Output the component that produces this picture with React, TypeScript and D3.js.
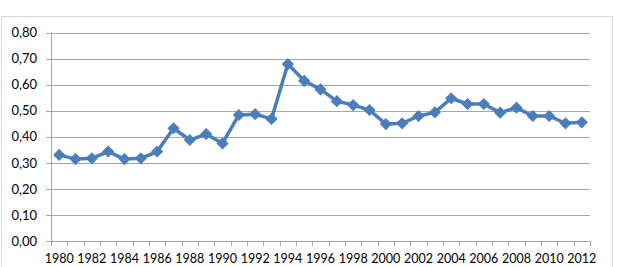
import React, { useEffect, useRef } from 'react';
import * as d3 from 'd3';

const years = d3.range(1980, 2013).map(String);
const values = [
  0.331, 0.315, 0.318, 0.344, 0.315, 0.318, 0.344, 0.433, 0.388, 0.411, 0.375,
  0.484, 0.487, 0.469, 0.679, 0.615, 0.582, 0.537, 0.522, 0.503, 0.449, 0.452,
  0.480, 0.494, 0.548, 0.526, 0.526, 0.493, 0.512, 0.480, 0.480, 0.452, 0.456,
];
const yTicks = [0, 0.1, 0.2, 0.3, 0.4, 0.5, 0.6, 0.7, 0.8];

const W = 618;
const H = 267;

const App: React.FC = () => {
  const svgRef = useRef<SVGSVGElement>(null);

  useEffect(() => {
    if (!svgRef.current) return;
    const svg = d3.select(svgRef.current);
    svg.selectAll('*').remove();

    const left = 51;
    const right = 590;
    const top = 32.5;
    const bottom = 241.3;
    const font = 'Lato, "Liberation Sans", sans-serif';

    // chart frame
    svg.append('rect')
      .attr('x', 1.5).attr('y', 16.5)
      .attr('width', 611).attr('height', 260)
      .attr('fill', '#fff')
      .attr('stroke', '#d9d9d9');

    const x = d3.scaleBand<string>().domain(years).range([left, right]);
    const y = d3.scaleLinear().domain([0, 0.8]).range([bottom, top]);

    // gridlines
    svg.append('g')
      .selectAll('line')
      .data(yTicks)
      .enter()
      .append('line')
      .attr('x1', left - 5)
      .attr('x2', right)
      .attr('y1', d => Math.round(y(d)) + 0.5)
      .attr('y2', d => Math.round(y(d)) + 0.5)
      .attr('stroke', '#a6a6a6')
      .attr('stroke-width', 1);

    // y labels
    svg.append('g')
      .selectAll('text')
      .data(yTicks)
      .enter()
      .append('text')
      .attr('x', 37)
      .attr('y', d => y(d))
      .attr('dy', '0.35em')
      .attr('text-anchor', 'end')
      .attr('font-family', font)
      .attr('font-size', 13)
      .attr('fill', '#000')
      .text(d => d.toFixed(2).replace('.', ','));

    // y axis line
    svg.append('line')
      .attr('x1', left + 0.5).attr('x2', left + 0.5)
      .attr('y1', top).attr('y2', bottom + 0.5)
      .attr('stroke', '#a6a6a6');

    // x ticks at category boundaries
    const bounds = years.map(d => x(d) as number).concat([right]);
    svg.append('g')
      .selectAll('line')
      .data(bounds)
      .enter()
      .append('line')
      .attr('x1', d => Math.round(d) + 0.5)
      .attr('x2', d => Math.round(d) + 0.5)
      .attr('y1', Math.round(bottom))
      .attr('y2', Math.round(bottom) + 5)
      .attr('stroke', '#a6a6a6');

    // x labels every other year
    svg.append('g')
      .selectAll('text')
      .data(years.filter((_, i) => i % 2 === 0))
      .enter()
      .append('text')
      .attr('x', d => (x(d) as number) + x.bandwidth() / 2)
      .attr('y', 263)
      .attr('text-anchor', 'middle')
      .attr('font-family', font)
      .attr('font-size', 12.5)
      .attr('fill', '#000')
      .text(d => d);

    const cx = (i: number) => (x(years[i]) as number) + x.bandwidth() / 2;

    const line = d3.line<number>()
      .x((_, i) => cx(i))
      .y(d => y(d));

    svg.append('path')
      .datum(values)
      .attr('d', line)
      .attr('fill', 'none')
      .attr('stroke', '#4a7ebb')
      .attr('stroke-width', 3.5)
      .attr('stroke-linejoin', 'round');

    // diamond markers: rotated squares
    const diamond = d3.symbol().type(d3.symbolSquare).size(58);
    svg.append('g')
      .selectAll('path')
      .data(values)
      .enter()
      .append('path')
      .attr('d', diamond)
      .attr('transform', (d, i) => `translate(${cx(i)},${y(d)}) rotate(45)`)
      .attr('fill', '#4a7ebb')
      .attr('stroke', '#4a7ebb')
      .attr('stroke-width', 1);
  }, []);

  return (
    <div style={{ position: 'absolute', left: 0, top: 0, width: W, height: H, background: '#fff' }}>
      <svg ref={svgRef} width={W} height={H} style={{ display: 'block' }} />
    </div>
  );
};

export default App;
